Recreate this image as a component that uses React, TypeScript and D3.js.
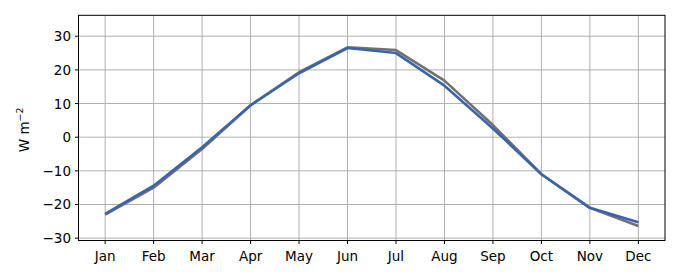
import React from "react";
import * as d3 from "d3";

const months = ["Jan", "Feb", "Mar", "Apr", "May", "Jun", "Jul", "Aug", "Sep", "Oct", "Nov", "Dec"];
const grayValues = [-23.0, -15.0, -3.5, 9.5, 19.3, 26.7, 25.9, 16.8, 3.6, -11.0, -21.0, -26.4];
const blueValues = [-22.8, -14.4, -3.0, 9.5, 19.0, 26.5, 25.0, 15.3, 2.6, -11.0, -21.0, -25.3];
const yTicks = [-30, -20, -10, 0, 10, 20, 30];

const W = 680;
const H = 280;
const L = 78.5;
const R = 665;
const T = 15.3;
const B = 240.5;

export default function App() {
  const x = d3.scaleLinear().domain([-0.55, 11.55]).range([L, R]);
  const y = d3.scaleLinear().domain([-30.7, 36.22]).range([B, T]);
  const line = d3
    .line<number>()
    .x((_, i) => x(i))
    .y((d) => y(d));
  const font = "DejaVu Sans, sans-serif";
  const fs = 13.5;
  return (
    <svg width={W} height={H} style={{ position: "absolute", left: 0, top: 0 }} fontFamily={font}>
      <rect x={0} y={0} width={W} height={H} fill="#fff" />
      {months.map((m, i) => (
        <line key={"gx" + m} x1={x(i)} x2={x(i)} y1={T} y2={B} stroke="#b0b0b0" strokeWidth={1} />
      ))}
      {yTicks.map((t) => (
        <line key={"gy" + t} x1={L} x2={R} y1={y(t)} y2={y(t)} stroke="#b0b0b0" strokeWidth={1} />
      ))}
      <path d={line(grayValues) || ""} fill="none" stroke="#717171" strokeWidth={2.6} strokeLinejoin="round" />
      <path d={line(blueValues) || ""} fill="none" stroke="#3a64ad" strokeWidth={2.6} strokeLinejoin="round" />
      <rect x={L} y={T} width={R - L} height={B - T} fill="none" stroke="#000" strokeWidth={1} />
      {yTicks.map((t) => (
        <g key={"ty" + t}>
          <line x1={L - 3.5} x2={L} y1={y(t)} y2={y(t)} stroke="#000" strokeWidth={1} />
          <text x={L - 7.5} y={y(t)} textAnchor="end" dominantBaseline="central" fontSize={fs} fill="#000">
            {t < 0 ? "\u2212" + Math.abs(t) : String(t)}
          </text>
        </g>
      ))}
      {months.map((m, i) => (
        <g key={"tx" + m}>
          <line x1={x(i)} x2={x(i)} y1={B} y2={B + 3.5} stroke="#000" strokeWidth={1} />
          <text x={x(i)} y={B + 20.5} textAnchor="middle" fontSize={fs} fill="#000">
            {m}
          </text>
        </g>
      ))}
      <text transform={`translate(29, ${(T + B) / 2 + 2}) rotate(-90)`} textAnchor="middle" fontSize={fs} fill="#000">
        W m<tspan dy={-6} fontSize={9.4}>{"\u22122"}</tspan>
      </text>
    </svg>
  );
}
